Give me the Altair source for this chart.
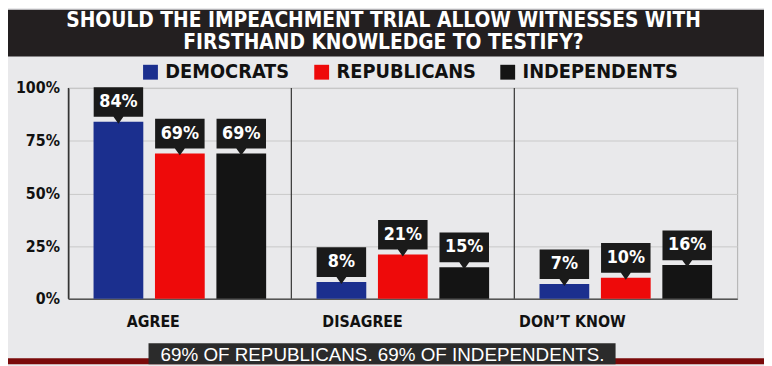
import altair as alt
import pandas as pd

# ---- data ----
categories = ["AGREE", "DISAGREE", "DON\u2019T KNOW"]
parties = ["DEMOCRATS", "REPUBLICANS", "INDEPENDENTS"]
democrats = [84, 8, 7]
republicans = [69, 21, 10]
independents = [69, 15, 16]
party_colors = ["#1b2f8e", "#ee0a0a", "#141414"]
y_ticks = [0, 25, 50, 75, 100]

title_lines = ["SHOULD THE IMPEACHMENT TRIAL ALLOW WITNESSES WITH",
               "FIRSTHAND KNOWLEDGE TO TESTIFY?"]
caption = "69% OF REPUBLICANS. 69% OF INDEPENDENTS."

rows = []
for party, vals in zip(parties, [democrats, republicans, independents]):
    for cat, v in zip(categories, vals):
        rows.append({"category": cat, "party": party, "value": v, "label": f"{v}%"})
df = pd.DataFrame(rows)
cat_df = pd.DataFrame({"category": categories})

FONT_C = "DejaVu Sans Condensed, Liberation Sans Narrow, sans-serif"
FONT = "Liberation Sans, Arial, sans-serif"

W, H = 676, 213
PAD = {"left": 61, "top": 79, "right": 27, "bottom": 66}

x_enc = alt.X("category:N", sort=categories,
              scale=alt.Scale(paddingInner=0, paddingOuter=0),
              axis=alt.Axis(title=None, labelAngle=0, labelFont=FONT_C, labelFontSize=16,
                            labelFontWeight="bold", labelColor="#111", labelPadding=23,
                            ticks=False, domainColor="#555", domainWidth=1.5, grid=False))
xo_enc = alt.XOffset("party:N", sort=parties,
                     scale=alt.Scale(paddingInner=0.19, paddingOuter=0.41))
y_enc = alt.Y("value:Q", scale=alt.Scale(domain=[0, 100]),
              axis=alt.Axis(values=y_ticks, labelExpr="datum.value + '%'", title=None,
                            ticks=False, domainColor="#555", domainWidth=1.5,
                            gridColor="#c8c8c8", gridWidth=1,
                            labelFont=FONT_C, labelFontSize=16, labelFontWeight="bold",
                            labelColor="#111", labelPadding=9))

base = alt.Chart(df)

bars = base.mark_bar().encode(
    x=x_enc, xOffset=xo_enc, y=y_enc,
    color=alt.Color("party:N", sort=parties,
                    scale=alt.Scale(domain=parties, range=party_colors),
                    legend=alt.Legend(title=None, orient="none", legendX=73, legendY=-26,
                                      direction="horizontal", symbolType="square",
                                      symbolSize=225, symbolStrokeWidth=0, symbolOpacity=1,
                                      labelFont=FONT_C, labelFontSize=20, labelFontWeight="bold",
                                      labelColor="#111", columnPadding=22, labelOffset=5)),
)

box_path = "M-1,-0.6H1V0.6H0.2L0,0.88L-0.2,0.6H-1Z"
boxes = base.mark_point(shape=box_path, size=2500, filled=True, color="#1a1a1a",
                        opacity=1, strokeWidth=0, yOffset=-20).encode(
    x=x_enc, xOffset=xo_enc, y=y_enc)

labels = base.mark_text(yOffset=-20, font=FONT_C, fontSize=18, fontWeight="bold",
                        color="white", baseline="middle", align="center").encode(
    x=x_enc, xOffset=xo_enc, y=y_enc, text="label:N")

separators = alt.Chart(cat_df).mark_rule(color="#333", strokeWidth=1.2).encode(
    x=alt.X("category:N", sort=categories, bandPosition=0))

one = alt.Data(values=[{"k": 1}])

title_band = alt.Chart(one).mark_rect(color="#231f20").encode(
    x=alt.value(-PAD["left"]), x2=alt.value(W + PAD["right"]),
    y=alt.value(-PAD["top"]), y2=alt.value(-32))
title1 = alt.Chart(one).mark_text(font=FONT_C, fontSize=21, fontWeight="bold", color="white",
                                  align="center", baseline="middle").encode(
    x=alt.value(318.5), y=alt.value(-68), text=alt.value(title_lines[0]))
title2 = alt.Chart(one).mark_text(font=FONT_C, fontSize=21, fontWeight="bold", color="white",
                                  align="center", baseline="middle").encode(
    x=alt.value(318.5), y=alt.value(-45), text=alt.value(title_lines[1]))

red_strip = alt.Chart(one).mark_rect(color="#7a0a0a").encode(
    x=alt.value(-PAD["left"]), x2=alt.value(W + PAD["right"]),
    y=alt.value(273), y2=alt.value(H + PAD["bottom"]))
cap_box = alt.Chart(one).mark_rect(color="#2b2b2b").encode(
    x=alt.value(81), x2=alt.value(553), y=alt.value(258), y2=alt.value(H + PAD["bottom"]))
cap_text = alt.Chart(one).mark_text(font=FONT, fontSize=19, color="white",
                                    align="center", baseline="middle").encode(
    x=alt.value(317.5), y=alt.value(270), text=alt.value(caption))

chart = alt.layer(
    title_band, title1, title2, separators, bars, boxes, labels, red_strip, cap_box, cap_text
).properties(
    width=W, height=H,
    autosize=alt.AutoSizeParams(type="none"),
    padding=PAD,
    background="#e9e9eb",
).configure_view(stroke="#b8b8b8", strokeWidth=1.2)

chart.save("out.html", embed_options={"renderer": "svg", "actions": False})
